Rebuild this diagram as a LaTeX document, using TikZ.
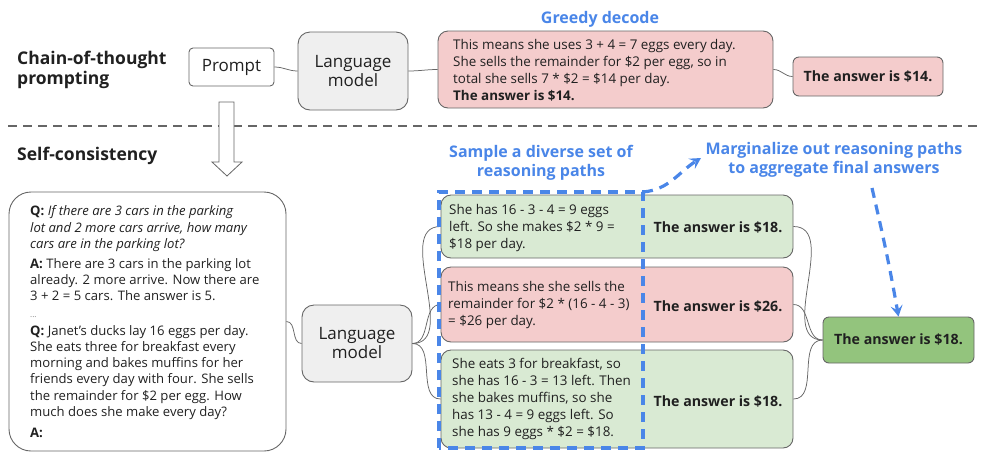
\documentclass[tikz,border=0pt]{standalone}
\usepackage{fontspec}
\setmainfont{Open Sans}
\usetikzlibrary{arrows.meta}
\definecolor{pinkf}{HTML}{F4CCCC}
\definecolor{greenf}{HTML}{D9EAD3}
\definecolor{greend}{HTML}{93C47D}
\definecolor{grayf}{HTML}{EFEFEF}
\definecolor{bluet}{HTML}{4A86E8}
\definecolor{edgec}{HTML}{666666}
\definecolor{txt}{HTML}{202020}
\begin{document}
\begin{tikzpicture}[x=1pt,y=-1pt,
  box/.style={draw=edgec, line width=0.9pt, inner sep=0pt},
  body/.style={font=\fontsize{13.4}{17}\selectfont, align=left, anchor=west, inner sep=0pt, text=txt},
  ans/.style={font=\bfseries\fontsize{14.2}{16}\selectfont, text=txt, inner sep=0pt},
  btitle/.style={font=\bfseries\fontsize{16}{19.5}\selectfont, text=bluet, align=center, inner sep=0pt},
  sectitle/.style={font=\bfseries\fontsize{17.5}{20}\selectfont, align=left, anchor=west, inner sep=0pt, text=txt},
  lmfont/.style={font=\fontsize{17}{19}\selectfont, align=center, text=txt},
  conn/.style={draw=edgec, line width=0.75pt},
  bluedash/.style={draw=bluet, line width=3.2pt, dash pattern=on 10pt off 7pt},
  btip/.style={-{Stealth[length=11pt,width=12pt,inset=4.5pt]}}
]
\useasboundingbox (0,0) rectangle (983,475);

% section titles
\node[sectitle] (cot) at (17,70) {Chain-of-thought\\prompting};
\node[sectitle] (sc) at (17,156) {Self-consistency};

% top row
\node[box, rounded corners=4pt, minimum width=85, minimum height=38, font=\fontsize{17}{19}\selectfont, text=txt] (prompt) at (231.5,67) {Prompt};
\node[box, fill=grayf, rounded corners=12pt, minimum width=110, minimum height=78, lmfont] (lm1) at (353,71) {Language\\model};
\node[box, fill=pinkf, rounded corners=10pt, minimum width=335, minimum height=77] (greedy) at (605.5,69.5) {};
\node[body] (greedytxt) at (453,70) {This means she uses 3 + 4 = 7 eggs every day.\\She sells the remainder for \$2 per egg, so in\\total she sells 7 * \$2 = \$14 per day.\\\textbf{The answer is \$14.}};
\node[box, fill=pinkf, rounded corners=6pt, minimum width=150, minimum height=39] (ans0) at (868,76.5) {};
\node[ans] (ans0txt) at (868,76.5) {The answer is \$14.};
\node[btitle] (gd) at (600,19) {Greedy decode};

\draw[conn] (prompt.east) to[out=0,in=180] (lm1.west);
\draw[conn] (lm1.east) to[out=0,in=180] (greedy.west);
\draw[conn] (greedy.east) to[out=0,in=180] (ans0.west);

% separator
\draw[draw=edgec, line width=1.6pt, dash pattern=on 9pt off 6pt] (8,126) -- (978,126);

% hollow arrow
\draw[draw=edgec, line width=0.8pt, fill=white] (219,102) -- (234,102) -- (234,162) -- (242,162) -- (227,176) -- (212,162) -- (219,162) -- cycle;

% context prompt
\node[box, rounded corners=22pt, minimum width=277, minimum height=259] (ctx) at (147.5,321.5) {};
\node[body, font=\fontsize{13.1}{16.3}\selectfont] (ctxtxt) at (30,322) {\textbf{Q:} \textit{If there are 3 cars in the parking}\\
\textit{lot and 2 more cars arrive, how many}\\
\textit{cars are in the parking lot?}\\[3.5pt]
\textbf{A:} There are 3 cars in the parking lot\\
already. 2 more arrive. Now there are\\
3 + 2 = 5 cars. The answer is 5.\\
{\color{gray}\fontsize{8}{8}\selectfont ...}\\[1.5pt]
\textbf{Q:} Janet’s ducks lay 16 eggs per day.\\
She eats three for breakfast every\\
morning and bakes muffins for her\\
friends every day with four. She sells\\
the remainder for \$2 per egg. How\\
much does she make every day?\\[5pt]
\textbf{A:}};

\node[box, fill=grayf, rounded corners=12pt, minimum width=110, minimum height=77, lmfont] (lm2) at (357,343.5) {Language\\model};

% reasoning paths
\node[box, fill=greenf, rounded corners=10pt, minimum width=352, minimum height=63] (p1) at (617,226.5) {};
\node[box, fill=pinkf, rounded corners=10pt, minimum width=352, minimum height=75] (p2) at (617,304.5) {};
\node[box, fill=greenf, rounded corners=10pt, minimum width=352, minimum height=98] (p3) at (617,399) {};

\node[body] (p1txt) at (449,228) {She has 16 - 3 - 4 = 9 eggs\\left. So she makes \$2 * 9 =\\\$18 per day.};
\node[body] (p2txt) at (448,305) {This means she she sells the\\remainder for \$2 * (16 - 4 - 3)\\= \$26 per day.};
\node[body] (p3txt) at (452,399) {She eats 3 for breakfast, so\\she has 16 - 3 = 13 left. Then\\she bakes muffins, so she\\has 13 - 4 = 9 eggs left. So\\she has 9 eggs * \$2 = \$18.};

\node[ans] (a1) at (718,228) {The answer is \$18.};
\node[ans] (a2) at (718,307) {The answer is \$26.};
\node[ans] (a3) at (718,402) {The answer is \$18.};

\node[box, fill=greend, rounded corners=6pt, minimum width=151, minimum height=46] (fin) at (898.5,340) {};
\node[ans] (fintxt) at (898.5,340) {The answer is \$18.};

\draw[conn] (ctx.east) to[out=0,in=180] (lm2.west);
\draw[conn] (lm2.east) to[out=0,in=180] (p1.west);
\draw[conn] (lm2.east) to[out=0,in=180] (p2.west);
\draw[conn] (lm2.east) to[out=0,in=180] (p3.west);
\draw[conn] (p1.east) to[out=0,in=180] (fin.west);
\draw[conn] (p2.east) to[out=0,in=180] (fin.west);
\draw[conn] (p3.east) to[out=0,in=180] (fin.west);

% blue annotations
\node[btitle] (sample) at (541,163) {Sample a diverse set of\\reasoning paths};
\node[btitle] (marg) at (834,160) {Marginalize out reasoning paths\\to aggregate final answers};

\coordinate (rectSW) at (439,448);
\coordinate (rectNE) at (643,192);
\draw[bluedash] (rectSW) rectangle (rectNE);
\coordinate (margin) at (701,158);
\draw[bluedash, btip] (rectNE) to[out=5,in=-148] (margin);
\coordinate (margout) at (872,188);
\draw[bluedash, btip] (margout) to[out=-77,in=100] (fin.north);
\end{tikzpicture}
\end{document}
